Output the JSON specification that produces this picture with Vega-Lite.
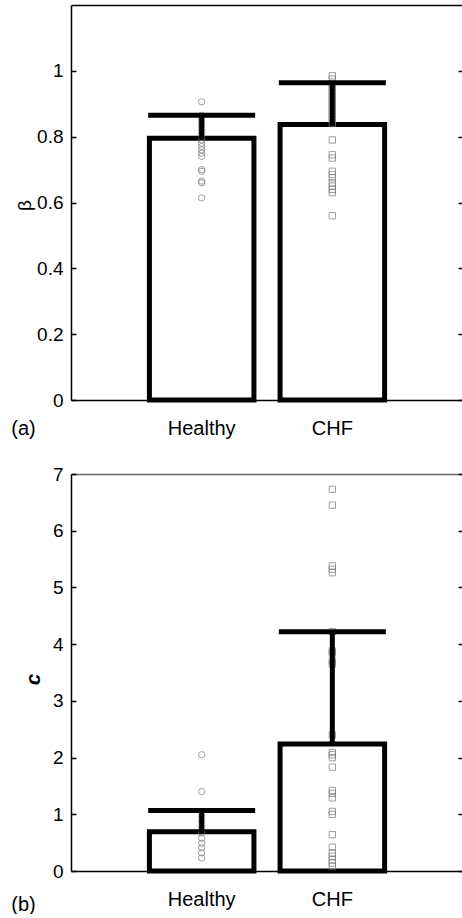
{
  "$schema": "https://vega.github.io/schema/vega-lite/v6.json",
  "padding": {"left": 10, "top": 5, "right": 0, "bottom": 0},
  "background": "white",
  "spacing": 74,
  "bounds": "flush",
  "config": {
    "view": {"stroke": null},
    "font": "Liberation Sans",
    "axis": {"grid": false, "labelFont": "Liberation Sans", "titleFont": "Liberation Sans", "labelFontSize": 19, "titleFontSize": 20, "labelColor": "black", "titleColor": "black", "domainColor": "black", "tickColor": "black", "domainWidth": 1.5, "tickWidth": 1.5, "titleFontWeight": "normal"}
  },
  "datasets": {
    "betaStats": [
      {"group": "Healthy", "mean": 0.795, "upper": 0.865},
      {"group": "CHF", "mean": 0.837, "upper": 0.964}
    ],
    "betaPts": [
      {"group": "Healthy", "value": 0.906},
      {"group": "Healthy", "value": 0.865},
      {"group": "Healthy", "value": 0.855},
      {"group": "Healthy", "value": 0.845},
      {"group": "Healthy", "value": 0.835},
      {"group": "Healthy", "value": 0.825},
      {"group": "Healthy", "value": 0.815},
      {"group": "Healthy", "value": 0.805},
      {"group": "Healthy", "value": 0.79},
      {"group": "Healthy", "value": 0.78},
      {"group": "Healthy", "value": 0.77},
      {"group": "Healthy", "value": 0.76},
      {"group": "Healthy", "value": 0.75},
      {"group": "Healthy", "value": 0.74},
      {"group": "Healthy", "value": 0.70},
      {"group": "Healthy", "value": 0.695},
      {"group": "Healthy", "value": 0.665},
      {"group": "Healthy", "value": 0.66},
      {"group": "Healthy", "value": 0.614},
      {"group": "CHF", "value": 0.985},
      {"group": "CHF", "value": 0.975},
      {"group": "CHF", "value": 0.96},
      {"group": "CHF", "value": 0.95},
      {"group": "CHF", "value": 0.94},
      {"group": "CHF", "value": 0.93},
      {"group": "CHF", "value": 0.92},
      {"group": "CHF", "value": 0.91},
      {"group": "CHF", "value": 0.90},
      {"group": "CHF", "value": 0.89},
      {"group": "CHF", "value": 0.88},
      {"group": "CHF", "value": 0.87},
      {"group": "CHF", "value": 0.86},
      {"group": "CHF", "value": 0.85},
      {"group": "CHF", "value": 0.84},
      {"group": "CHF", "value": 0.79},
      {"group": "CHF", "value": 0.745},
      {"group": "CHF", "value": 0.735},
      {"group": "CHF", "value": 0.695},
      {"group": "CHF", "value": 0.685},
      {"group": "CHF", "value": 0.675},
      {"group": "CHF", "value": 0.66},
      {"group": "CHF", "value": 0.65},
      {"group": "CHF", "value": 0.64},
      {"group": "CHF", "value": 0.63},
      {"group": "CHF", "value": 0.56}
    ],
    "cStats": [
      {"group": "Healthy", "mean": 0.69, "upper": 1.067},
      {"group": "CHF", "mean": 2.24, "upper": 4.22}
    ],
    "cPts": [
      {"group": "Healthy", "value": 2.05},
      {"group": "Healthy", "value": 1.40},
      {"group": "Healthy", "value": 1.05},
      {"group": "Healthy", "value": 0.96},
      {"group": "Healthy", "value": 0.87},
      {"group": "Healthy", "value": 0.78},
      {"group": "Healthy", "value": 0.67},
      {"group": "Healthy", "value": 0.58},
      {"group": "Healthy", "value": 0.49},
      {"group": "Healthy", "value": 0.41},
      {"group": "Healthy", "value": 0.32},
      {"group": "Healthy", "value": 0.23},
      {"group": "CHF", "value": 6.73},
      {"group": "CHF", "value": 6.45},
      {"group": "CHF", "value": 5.38},
      {"group": "CHF", "value": 5.32},
      {"group": "CHF", "value": 5.26},
      {"group": "CHF", "value": 4.22},
      {"group": "CHF", "value": 3.88},
      {"group": "CHF", "value": 3.84},
      {"group": "CHF", "value": 3.70},
      {"group": "CHF", "value": 3.65},
      {"group": "CHF", "value": 2.40},
      {"group": "CHF", "value": 2.09},
      {"group": "CHF", "value": 2.05},
      {"group": "CHF", "value": 2.00},
      {"group": "CHF", "value": 1.83},
      {"group": "CHF", "value": 1.42},
      {"group": "CHF", "value": 1.37},
      {"group": "CHF", "value": 1.29},
      {"group": "CHF", "value": 1.05},
      {"group": "CHF", "value": 1.00},
      {"group": "CHF", "value": 0.64},
      {"group": "CHF", "value": 0.42},
      {"group": "CHF", "value": 0.32},
      {"group": "CHF", "value": 0.26},
      {"group": "CHF", "value": 0.20},
      {"group": "CHF", "value": 0.14},
      {"group": "CHF", "value": 0.08}
    ]
  },
  "vconcat": [
    {
      "width": 392,
      "height": 395,
      "resolve": {"axis": {"x": "independent", "y": "independent"}},
      "layer": [
        {
          "data": {"name": "betaStats"},
          "mark": {"type": "bar", "fill": "white", "stroke": "black", "strokeWidth": 5},
          "encoding": {
            "x": {"field": "group", "type": "nominal", "sort": ["Healthy", "CHF"], "scale": {"paddingInner": 0.2, "paddingOuter": 0.6},
              "axis": {"orient": "bottom", "title": "(a)", "labelAngle": 0, "ticks": false, "labelPadding": 34, "labelBaseline": "alphabetic", "labelFontSize": 20, "titleX": -48, "titleY": 34, "titleBaseline": "alphabetic", "titleAlign": "center"}},
            "y": {"field": "mean", "type": "quantitative", "scale": {"domain": [0, 1.2], "nice": false},
              "axis": {"orient": "left", "title": "β", "values": [0, 0.2, 0.4, 0.6, 0.8, 1], "format": "~g", "tickSize": -5, "labelPadding": 13, "titleX": -47, "titleY": 200, "titleBaseline": "middle", "titleAlign": "center", "titleAngle": -90, "titleFontSize": 19}}
          }
        },
        {
          "data": {"name": "betaPts"},
          "mark": {"type": "point", "filled": false, "strokeWidth": 1, "color": "#777777", "size": 40},
          "encoding": {
            "x": {"field": "group", "type": "nominal", "sort": ["Healthy", "CHF"],
              "axis": {"orient": "top", "title": null, "labels": false, "ticks": false, "domainColor": "black"}},
            "y": {"field": "value", "type": "quantitative", "axis": null},
            "shape": {"field": "group", "type": "nominal", "scale": {"domain": ["Healthy", "CHF"], "range": ["circle", "square"]}, "legend": null}
          }
        },
        {
          "data": {"name": "betaStats"},
          "mark": {"type": "rule", "color": "black", "strokeWidth": 5},
          "encoding": {
            "x": {"field": "group", "type": "nominal", "sort": ["Healthy", "CHF"], "axis": null},
            "y": {"field": "mean", "type": "quantitative", "axis": null},
            "y2": {"field": "upper"}
          }
        },
        {
          "data": {"name": "betaStats"},
          "mark": {"type": "tick", "color": "black", "size": 107, "thickness": 5, "opacity": 1},
          "encoding": {
            "x": {"field": "group", "type": "nominal", "sort": ["Healthy", "CHF"], "axis": null},
            "y": {"field": "upper", "type": "quantitative",
              "axis": {"orient": "right", "title": null, "labels": false, "domain": false, "values": [0, 0.2, 0.4, 0.6, 0.8, 1], "tickSize": -5}}
          }
        }
      ]
    },
    {
      "width": 392,
      "height": 397,
      "resolve": {"axis": {"x": "independent", "y": "independent"}},
      "layer": [
        {
          "data": {"name": "cStats"},
          "mark": {"type": "bar", "fill": "white", "stroke": "black", "strokeWidth": 5},
          "encoding": {
            "x": {"field": "group", "type": "nominal", "sort": ["Healthy", "CHF"], "scale": {"paddingInner": 0.2, "paddingOuter": 0.6},
              "axis": {"orient": "bottom", "title": "(b)", "labelAngle": 0, "ticks": false, "labelPadding": 34, "labelBaseline": "alphabetic", "labelFontSize": 20, "titleX": -48, "titleY": 39, "titleBaseline": "alphabetic", "titleAlign": "center"}},
            "y": {"field": "mean", "type": "quantitative", "scale": {"domain": [0, 7], "nice": false},
              "axis": {"orient": "left", "title": "c", "values": [0, 1, 2, 3, 4, 5, 6, 7], "format": "~g", "tickSize": -5, "labelPadding": 13, "titleX": -38, "titleY": 205, "titleBaseline": "middle", "titleAlign": "center", "titleAngle": -90, "titleFontStyle": "italic", "titleFontWeight": "bold", "titleFontSize": 21}}
          }
        },
        {
          "data": {"name": "cPts"},
          "mark": {"type": "point", "filled": false, "strokeWidth": 1, "color": "#777777", "size": 40},
          "encoding": {
            "x": {"field": "group", "type": "nominal", "sort": ["Healthy", "CHF"],
              "axis": {"orient": "top", "title": null, "labels": false, "ticks": false, "domainColor": "#666666"}},
            "y": {"field": "value", "type": "quantitative", "axis": null},
            "shape": {"field": "group", "type": "nominal", "scale": {"domain": ["Healthy", "CHF"], "range": ["circle", "square"]}, "legend": null}
          }
        },
        {
          "data": {"name": "cStats"},
          "mark": {"type": "rule", "color": "black", "strokeWidth": 5},
          "encoding": {
            "x": {"field": "group", "type": "nominal", "sort": ["Healthy", "CHF"], "axis": null},
            "y": {"field": "mean", "type": "quantitative", "axis": null},
            "y2": {"field": "upper"}
          }
        },
        {
          "data": {"name": "cStats"},
          "mark": {"type": "tick", "color": "black", "size": 107, "thickness": 5, "opacity": 1},
          "encoding": {
            "x": {"field": "group", "type": "nominal", "sort": ["Healthy", "CHF"], "axis": null},
            "y": {"field": "upper", "type": "quantitative",
              "axis": {"orient": "right", "title": null, "labels": false, "domain": false, "values": [0, 1, 2, 3, 4, 5, 6, 7], "tickSize": -5}}
          }
        }
      ]
    }
  ]
}
